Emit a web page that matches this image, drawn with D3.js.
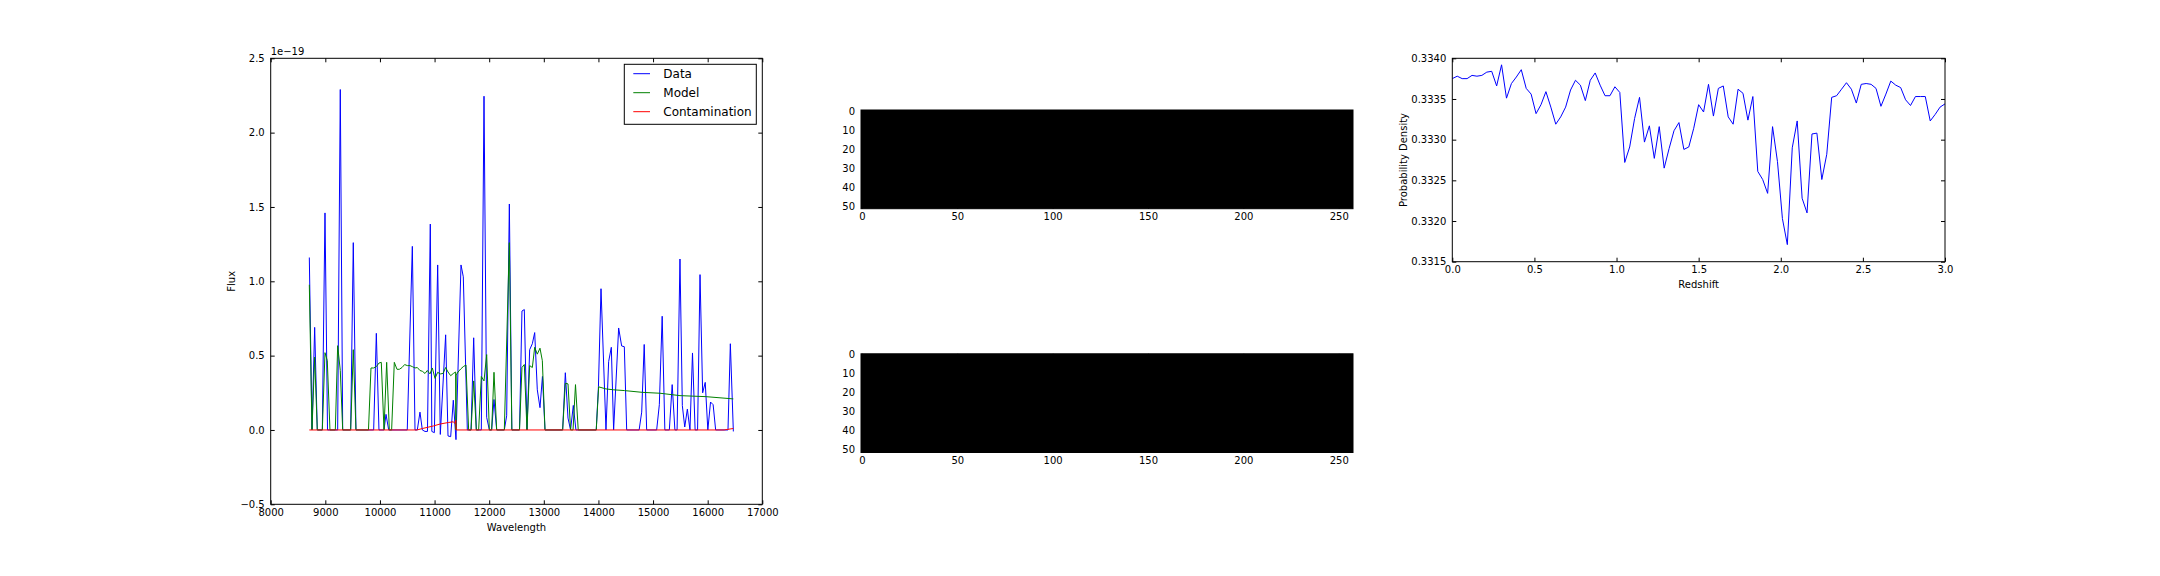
<!DOCTYPE html>
<html>
<head>
<meta charset="utf-8">
<script src="https://cdn.jsdelivr.net/npm/d3@7"></script>
<style>
  html, body { margin: 0; padding: 0; background: #ffffff; }
  svg { display: block; }
  text { font-family: "DejaVu Sans", sans-serif; fill: #000; }
</style>
</head>
<body>
<svg id="chart" width="2160" height="576"></svg>
<script>
// ---------------- DATA ----------------
const dataWave = [8707,8756,8805,8853,8945,8994,9040,9226,9274,9318,9464,9512,9561,9885,9934,9982,10074,10111,10160,10500,10593,10642,10684,10733,10776,10825,10870,10922,10950,10996,11057,11105,11203,11246,11295,11343,11392,11484,11526,11600,11668,11716,11764,11856,11905,11954,12003,12045,12088,12137,12277,12320,12369,12415,12555,12600,12643,12692,12741,12790,12833,12881,12930,12975,13022,13345,13394,13443,13490,13540,13588,13960,14000,14047,14138,14187,14236,14278,14370,14425,14474,14517,14745,14792,14838,14883,15066,15115,15167,15216,15298,15350,15400,15440,15493,15536,15580,15628,15676,15722,15770,15815,15860,15908,15955,16003,16052,16100,16146,16372,16415,16470];
const dataFlux = [1.16,0.0,0.69,0.0,0.0,1.46,0.0,0.0,2.29,0.0,0.0,1.26,0.0,0.0,0.65,0.0,0.0,0.105,0.0,0.0,1.235,0.0,0.0,0.12,0.0,-0.01,-0.01,1.385,-0.01,-0.018,1.11,-0.03,0.64,-0.04,-0.045,0.20,-0.065,1.11,1.03,0.0,0.0,0.62,0.0,0.0,2.245,0.085,0.0,0.0,0.205,0.0,0.0,0.095,1.52,0.0,0.0,0.80,0.81,0.0,0.54,0.58,0.655,0.27,0.15,0.36,0.0,0.0,0.385,0.08,0.0,0.165,0.0,0.0,0.29,0.95,0.0,0.46,0.556,0.0,0.686,0.565,0.56,0.0,0.0,0.12,0.575,0.0,0.0,0.17,0.765,0.0,0.0,0.305,0.0,0.0,1.15,0.164,0.02,0.14,0.0,0.518,0.0,0.0,1.045,0.25,0.32,0.0,0.188,0.17,0.0,0.0,0.58,-0.01];

const modelWave = [8707,8756,8805,8853,8945,8994,9036,9085,9183,9226,9274,9318,9464,9512,9561,9790,9836,9885,9934,9982,10025,10074,10123,10172,10214,10263,10312,10355,10404,10452,10501,10550,10593,10642,10684,10733,10776,10825,10867,10916,10959,11008,11057,11105,11154,11203,11246,11295,11343,11386,11390,11395,11430,11478,11526,11575,11624,11668,11716,11764,11807,11856,11905,11954,12003,12045,12088,12137,12277,12369,12415,12555,12600,12643,12692,12741,12790,12833,12881,12930,12973,13022,13345,13394,13443,13490,13535,13580,13630,13960,14004,14138,14282,14474,14804,15127,15493,15970,16470];
const modelFlux = [0.977,0.0,0.49,0.0,0.0,0.52,0.466,0.0,0.0,0.567,0.40,0.0,0.0,0.54,0.0,0.0,0.417,0.417,0.426,0.45,0.455,0.0,0.455,0.0,0.0,0.455,0.408,0.408,0.42,0.44,0.433,0.433,0.426,0.417,0.42,0.40,0.395,0.38,0.40,0.377,0.417,0.347,0.388,0.377,0.38,0.42,0.39,0.365,0.38,0.39,0.0,0.37,0.39,0.41,0.426,0.437,0.0,0.0,0.33,0.0,0.0,0.36,0.33,0.507,0.0,0.0,0.388,0.0,0.0,1.26,0.0,0.0,0.42,0.44,0.0,0.433,0.42,0.556,0.51,0.55,0.466,0.0,0.0,0.314,0.31,0.0,0.0,0.305,0.0,0.0,0.29,0.276,0.27,0.265,0.253,0.247,0.231,0.224,0.209];

const contamWave = [8707,10680,10780,10980,11100,11250,11340,11370,11390,11396,16300,16470];
const contamFlux = [0.0,0.0,0.01,0.027,0.04,0.05,0.055,0.045,0.065,0.0,0.0,0.01];

const redshift = [0.00,0.03,0.06,0.09,0.12,0.15,0.18,0.21,0.24,0.27,0.30,0.33,0.36,0.39,0.42,0.45,0.48,0.51,0.54,0.57,0.60,0.63,0.66,0.69,0.72,0.75,0.78,0.81,0.84,0.87,0.90,0.93,0.96,0.99,1.02,1.05,1.08,1.11,1.14,1.17,1.20,1.23,1.26,1.29,1.32,1.35,1.38,1.41,1.44,1.47,1.50,1.53,1.56,1.59,1.62,1.65,1.68,1.71,1.74,1.77,1.80,1.83,1.86,1.89,1.92,1.95,1.98,2.01,2.04,2.07,2.10,2.13,2.16,2.19,2.22,2.25,2.28,2.31,2.34,2.37,2.40,2.43,2.46,2.49,2.52,2.55,2.58,2.61,2.64,2.67,2.70,2.73,2.76,2.79,2.82,2.85,2.88,2.91,2.94,2.97,3.00];
const pdz = [0.33375,0.33378,0.33375,0.33375,0.33379,0.33378,0.33379,0.33383,0.33384,0.33366,0.33392,0.33351,0.33369,0.33377,0.33386,0.33363,0.33356,0.33332,0.33343,0.33359,0.33340,0.33319,0.33328,0.33340,0.33361,0.33373,0.33367,0.33348,0.33373,0.33382,0.33367,0.33354,0.33354,0.33365,0.33358,0.33272,0.33291,0.33326,0.33352,0.33297,0.33317,0.33277,0.33316,0.33265,0.33289,0.33311,0.33321,0.33288,0.33291,0.33314,0.33343,0.33334,0.33368,0.33329,0.33363,0.33366,0.33328,0.33319,0.33362,0.33357,0.33324,0.33353,0.33261,0.33251,0.33234,0.33316,0.33273,0.33203,0.33171,0.33290,0.33323,0.33228,0.33210,0.33307,0.33308,0.33251,0.33282,0.33352,0.33354,0.33362,0.33370,0.33362,0.33345,0.33368,0.33369,0.33368,0.33363,0.33341,0.33356,0.33372,0.33367,0.33364,0.33349,0.33342,0.33353,0.33353,0.33353,0.33323,0.33331,0.33340,0.33344];

const seriesNames = ["Data", "Model", "Contamination"];
const seriesColors = ["#0000ff", "#008000", "#ff0000"];

const waveTicks = [8000,9000,10000,11000,12000,13000,14000,15000,16000,17000];
const fluxTicks = [-0.5,0.0,0.5,1.0,1.5,2.0,2.5];
const zTicks = [0.0,0.5,1.0,1.5,2.0,2.5,3.0];
const pTicks = [0.3315,0.3320,0.3325,0.3330,0.3335,0.3340];
const imgXTicks = [0,50,100,150,200,250];
const imgYTicks = [0,10,20,30,40,50];
const imgCols = 258, imgRows = 52;

// ---------------- LAYOUT ----------------
const svg = d3.select("#chart");
const FS = 10;
const L1 = 270.7, R1 = 762.3, T1 = 58.3, B1 = 504.3;
const L2 = 861, R2 = 1353;
const img1Top = 110.0, img2Top = 353.8, imgH = 98.7;
const L3 = 1452.3, R3 = 1945, T3 = 58.3, B3 = 261.7;

function fmtMinus(s) { return s.replace("-", "\u2212"); }

function styleAxis(g, anchorPad) {
  g.select(".domain").remove();
  g.selectAll(".tick line").attr("stroke", "#000").attr("stroke-width", 1);
  g.selectAll(".tick text").attr("font-size", FS).attr("fill", "#000")
    .attr("font-family", "DejaVu Sans");
}

function frame(x0, y0, x1, y1, fill) {
  svg.append("rect").attr("x", x0).attr("y", y0).attr("width", x1 - x0).attr("height", y1 - y0)
    .attr("fill", fill || "none").attr("stroke", "#000").attr("stroke-width", 1);
}

function drawAxes(x, y, x0, x1, y0, y1, xt, yt, xf, yf) {
  const gb = svg.append("g").attr("transform", `translate(0,${y1})`)
    .call(d3.axisBottom(x).tickValues(xt).tickFormat(xf).tickSizeInner(-4).tickSizeOuter(0).tickPadding(4.6));
  styleAxis(gb);
  const gt = svg.append("g").attr("transform", `translate(0,${y0})`)
    .call(d3.axisTop(x).tickValues(xt).tickFormat("").tickSizeInner(-4).tickSizeOuter(0));
  styleAxis(gt);
  const gl = svg.append("g").attr("transform", `translate(${x0},0)`)
    .call(d3.axisLeft(y).tickValues(yt).tickFormat(yf).tickSizeInner(-4).tickSizeOuter(0).tickPadding(6));
  styleAxis(gl);
  const gr = svg.append("g").attr("transform", `translate(${x1},0)`)
    .call(d3.axisRight(y).tickValues(yt).tickFormat("").tickSizeInner(-4).tickSizeOuter(0));
  styleAxis(gr);
}

// ---------------- LEFT: spectrum ----------------
const xW = d3.scaleLinear().domain([8000, 17000]).range([L1, R1]);
const yF = d3.scaleLinear().domain([-0.5, 2.5]).range([B1, T1]);

const specSeries = [
  { wave: dataWave, flux: dataFlux },
  { wave: modelWave, flux: modelFlux },
  { wave: contamWave, flux: contamFlux }
];
const clip = svg.append("clipPath").attr("id", "c1").append("rect")
  .attr("x", L1).attr("y", T1).attr("width", R1 - L1).attr("height", B1 - T1);
const gLines = svg.append("g").attr("clip-path", "url(#c1)");
specSeries.forEach((s, k) => {
  const pts = s.wave.map((w, i) => [w, s.flux[i]]);
  gLines.append("path")
    .attr("d", d3.line().x(d => xW(d[0])).y(d => yF(d[1]))(pts))
    .attr("fill", "none").attr("stroke", seriesColors[k]).attr("stroke-width", 1)
    .attr("stroke-linejoin", "round");
});
drawAxes(xW, yF, L1, R1, T1, B1, waveTicks, fluxTicks, d3.format("d"), d => fmtMinus(d.toFixed(1)));
frame(L1, T1, R1, B1);

svg.append("text").attr("x", L1).attr("y", 55).attr("font-size", FS).text("1e\u221219");
svg.append("text").attr("x", (L1 + R1) / 2).attr("y", 530.5).attr("text-anchor", "middle")
  .attr("font-size", FS).text("Wavelength");
svg.append("text").attr("transform", `translate(235,${(T1 + B1) / 2}) rotate(-90)`)
  .attr("text-anchor", "middle").attr("font-size", FS).text("Flux");

// legend
const lgX0 = 624.3, lgY0 = 64.3, lgX1 = 756.3, lgY1 = 124.3;
svg.append("rect").attr("x", lgX0).attr("y", lgY0).attr("width", lgX1 - lgX0).attr("height", lgY1 - lgY0)
  .attr("fill", "#fff").attr("stroke", "#000").attr("stroke-width", 1);
seriesNames.forEach((n, i) => {
  const yy = 73.7 + i * 19;
  svg.append("line").attr("x1", 633.3).attr("x2", 650).attr("y1", yy).attr("y2", yy)
    .attr("stroke", seriesColors[i]).attr("stroke-width", 1);
  svg.append("text").attr("x", 663.3).attr("y", yy).attr("dy", "0.35em").attr("font-size", 12).text(n);
});

// ---------------- MIDDLE: 2D images ----------------
[img1Top, img2Top].forEach(top => {
  const xI = d3.scaleLinear().domain([-0.5, imgCols - 0.5]).range([L2, R2]);
  const yI = d3.scaleLinear().domain([-0.5, imgRows - 0.5]).range([top, top + imgH]);
  svg.append("rect").attr("x", xI(-0.5)).attr("y", yI(-0.5))
    .attr("width", xI(imgCols - 0.5) - xI(-0.5)).attr("height", yI(imgRows - 0.5) - yI(-0.5))
    .attr("fill", "#000");
  drawAxes(xI, yI, L2, R2, top, top + imgH, imgXTicks, imgYTicks, d3.format("d"), d3.format("d"));
  frame(L2, top, R2, top + imgH);
});

// ---------------- RIGHT: p(z) ----------------
const xZ = d3.scaleLinear().domain([0, 3]).range([L3, R3]);
const yP = d3.scaleLinear().domain([0.3315, 0.3340]).range([B3, T3]);
const clip3 = svg.append("clipPath").attr("id", "c3").append("rect")
  .attr("x", L3).attr("y", T3).attr("width", R3 - L3).attr("height", B3 - T3);
svg.append("g").attr("clip-path", "url(#c3)").append("path")
  .attr("d", d3.line().x((d, i) => xZ(redshift[i])).y(d => yP(d))(pdz))
  .attr("fill", "none").attr("stroke", "#0000ff").attr("stroke-width", 1).attr("stroke-linejoin", "round");
drawAxes(xZ, yP, L3, R3, T3, B3, zTicks, pTicks, d => d.toFixed(1), d => d.toFixed(4));
frame(L3, T3, R3, B3);
svg.append("text").attr("x", (L3 + R3) / 2).attr("y", 287.9).attr("text-anchor", "middle")
  .attr("font-size", FS).text("Redshift");
svg.append("text").attr("transform", `translate(1407,${(T3 + B3) / 2}) rotate(-90)`)
  .attr("text-anchor", "middle").attr("font-size", FS).text("Probability Density");
</script>
</body>
</html>
